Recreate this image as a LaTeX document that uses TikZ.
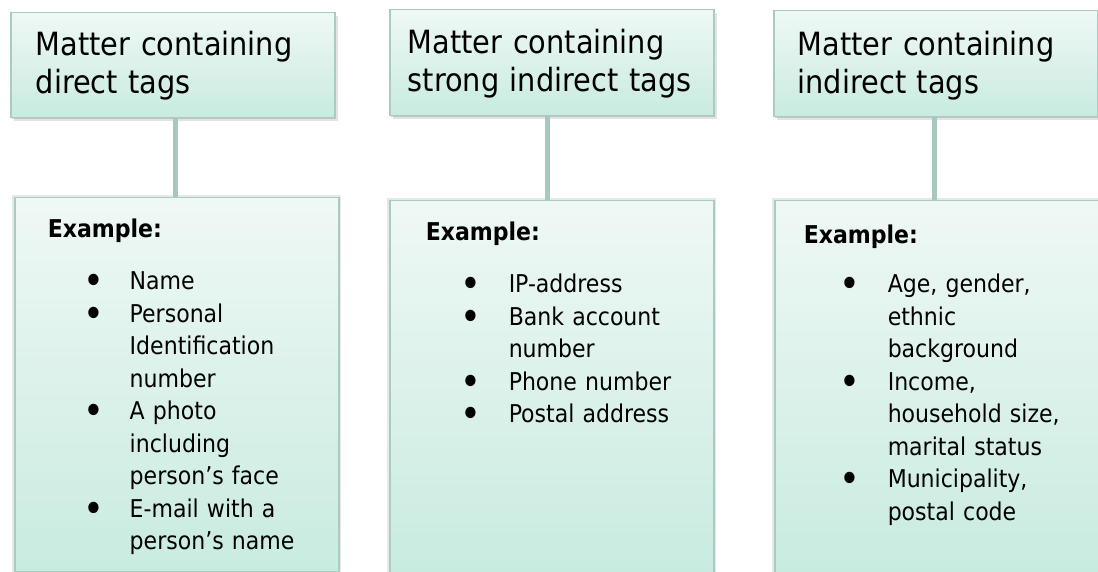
\documentclass[tikz,border=0pt]{standalone}
\usepackage{fontspec}
\usepackage{graphicx}
\setmainfont{DejaVu Sans Condensed}
\usetikzlibrary{shadows}
\definecolor{boxtop}{HTML}{EFF8F5}
\definecolor{boxbot}{HTML}{C8EBE0}
\definecolor{boxline}{HTML}{A9CBC3}
\definecolor{connc}{HTML}{A6C8BF}
\newcommand\bigdot{\raisebox{-5pt}[0pt][0pt]{\scalebox{1.6}{\textbullet}}}
\newcommand\exln[2]{\rule{0pt}{#1pt}\hspace*{#2pt}\textbf{Example:}}
\newcommand\bitem[3]{\hspace*{\dimexpr#1pt-6pt\relax}\makebox[\dimexpr#2pt+6pt\relax][l]{\bigdot}#3}
\newcommand\contl[2]{\hspace*{#1pt}#2}
\tikzset{
  basebox/.style={rectangle, draw=boxline, line width=1.5pt, top color=boxtop,
    bottom color=boxbot, inner xsep=0pt, inner ysep=0pt, align=left,
    anchor=north west, text width=324pt},
  headbox/.style={basebox, font=\fontsize{32}{38}\selectfont,
    drop shadow={shadow xshift=3pt, shadow yshift=-3pt, opacity=0.18, fill=black!60},
    drop shadow={shadow xshift=1.5pt, shadow yshift=-1.5pt, opacity=0.25, fill=black!60}},
  listbox/.style={basebox, font=\fontsize{24.5}{32.5}\selectfont,
    general shadow={shadow scale=1.015, opacity=0.15, fill=black!60}},
  link/.style={draw=connc, line width=5pt}
}
\begin{document}
\begin{tikzpicture}[x=1pt,y=1pt]
\useasboundingbox (0,0) rectangle (1098,-572);

% header boxes
\node[headbox] (t1) at (10,-12)
  {\rule{0pt}{43pt}\hspace*{25pt}Matter containing\\
   \hspace*{25pt}direct tags\rule[-24pt]{0pt}{24pt}};
\node[headbox] (t2) at (389,-9)
  {\rule{0pt}{44pt}\hspace*{18pt}Matter containing\\
   \hspace*{18pt}strong indirect tags\rule[-24pt]{0pt}{24pt}};
\node[headbox] (t3) at (773,-10)
  {\rule{0pt}{45pt}\hspace*{24pt}Matter containing\\
   \hspace*{24pt}indirect tags\rule[-23pt]{0pt}{23pt}};

% example boxes
\node[listbox] (b1) at (14,-197)
  {\exln{40}{33}\\[19.5pt]
   \bitem{75}{40}{Name}\\
   \bitem{75}{40}{Personal}\\
   \contl{115}{Identification}\\
   \contl{115}{number}\\
   \bitem{75}{40}{A photo}\\
   \contl{115}{including}\\
   \contl{115}{person’s face}\\
   \bitem{75}{40}{E-mail with a}\\
   \contl{115}{person’s name}\rule[-22pt]{0pt}{22pt}};
\node[listbox] (b2) at (389,-200)
  {\exln{40}{36}\\[19.5pt]
   \bitem{77}{42}{IP-address}\\
   \bitem{77}{42}{Bank account}\\
   \contl{119}{number}\\
   \bitem{77}{42}{Phone number}\\
   \bitem{77}{42}{Postal address}\rule[-152pt]{0pt}{152pt}};
\node[listbox] (b3) at (774,-200)
  {\exln{43}{29}\\[16.5pt]
   \bitem{71}{42}{Age, gender,}\\
   \contl{113}{ethnic}\\
   \contl{113}{background}\\
   \bitem{71}{42}{Income,}\\
   \contl{113}{household size,}\\
   \contl{113}{marital status}\\
   \bitem{71}{42}{Municipality,}\\
   \contl{113}{postal code}\rule[-54pt]{0pt}{54pt}};

% connectors
\draw[link] ([xshift=-1pt]b1.north |- t1.south) -- ([xshift=-1pt]b1.north);
\draw[link] ([xshift=-4pt]b2.north |- t2.south) -- ([xshift=-4pt]b2.north);
\draw[link] ([xshift=-2.5pt]b3.north |- t3.south) -- ([xshift=-2.5pt]b3.north);
\end{tikzpicture}
\end{document}
